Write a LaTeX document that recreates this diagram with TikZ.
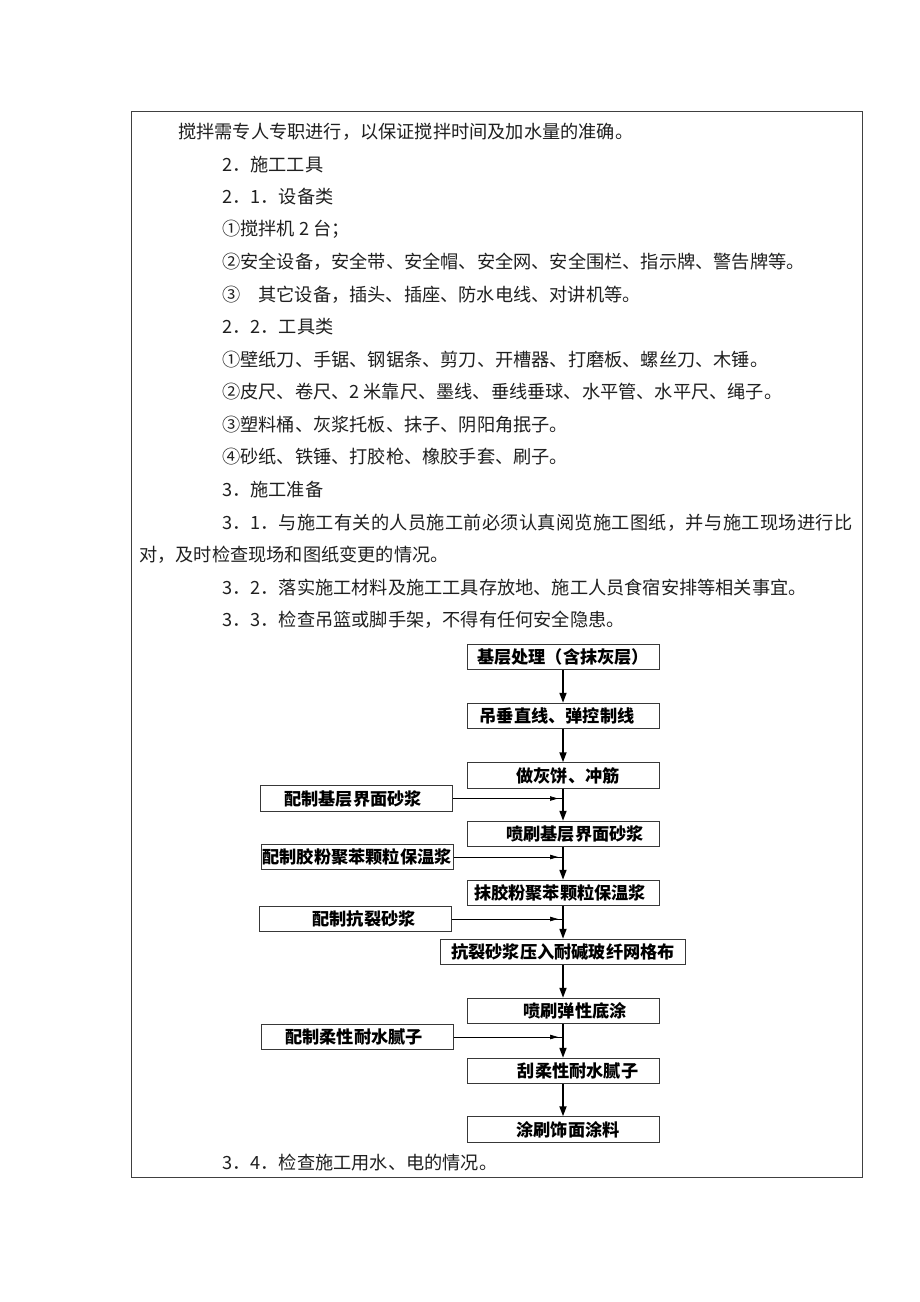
\documentclass[tikz,border=0pt]{standalone}
\usepackage{fontspec}
\setmainfont{Noto Sans CJK SC}
\usetikzlibrary{arrows.meta,decorations.markings}
\newcommand\myshift[1]{\hspace*{#1pt}\hspace*{#1pt}}
\begin{document}
\begin{tikzpicture}[x=1pt,y=-1pt,
  txt/.style={anchor=west,inner sep=0pt,font=\fontsize{18.2}{20}\selectfont,text=black!88},
  fbox/.style={draw=black!78,line width=1pt,minimum width=192pt,minimum height=25.5pt,inner sep=0pt,font=\fontsize{17.2}{19}\selectfont\bfseries},
  flow/.style={line width=1.8pt,-{Triangle[length=10pt,width=7pt]}},
  feed/.style={line width=0.7pt,postaction={decorate},
    decoration={markings,mark=at position -5pt with {\arrow{Triangle[length=8pt,width=4.5pt]}}}}]
\path[use as bounding box] (0,0) rectangle (920,1302);
\draw[black!75,line width=0.9pt] (131,111) rectangle (862,1177);
% body text
\node[txt] (t1) at (178,132) {搅拌需专人专职进行，以保证搅拌时间及加水量的准确。};
\node[txt] (t2) at (222,164.5) {2．施工工具};
\node[txt] (t3) at (222,197) {2．1．设备类};
\node[txt] (t4) at (222,229.5) {①搅拌机 2 台；};
\node[txt] (t5) at (222,262) {②安全设备，安全带、安全帽、安全网、安全围栏、指示牌、警告牌等。};
\node[txt] (t6) at (222,294.5) {③\hspace{18pt}其它设备，插头、插座、防水电线、对讲机等。};
\node[txt] (t7) at (222,327) {2．2．工具类};
\node[txt] (t8) at (222,359.5) {①壁纸刀、手锯、钢锯条、剪刀、开槽器、打磨板、螺丝刀、木锤。};
\node[txt] (t9) at (222,392) {②皮尺、卷尺、2 米靠尺、墨线、垂线垂球、水平管、水平尺、绳子。};
\node[txt] (t10) at (222,424.5) {③塑料桶、灰浆托板、抹子、阴阳角抿子。};
\node[txt] (t11) at (222,457) {④砂纸、铁锤、打胶枪、橡胶手套、刷子。};
\node[txt] (t12) at (222,490) {3．施工准备};
\node[txt] (t13) at (222,522.5) {3．1．{\addfontfeatures{LetterSpace=1.7}与施工有关的人员施工前必须认真阅览施工图纸，并与施工现场进行比}};
\node[txt] (t14) at (139,555) {对，及时检查现场和图纸变更的情况。};
\node[txt] (t15) at (222,587.5) {3．2．落实施工材料及施工工具存放地、施工人员食宿安排等相关事宜。};
\node[txt] (t16) at (222,620) {3．3．检查吊篮或脚手架，不得有任何安全隐患。};
\node[txt] (t17) at (222,1163) {3．4．检查施工用水、电的情况。};
% flowchart
\node[fbox] (b1) at (563,657) {基层处理（含抹灰层）};
\node[fbox] (b2) at (563,716) {\myshift{-6}吊垂直线、弹控制线};
\node[fbox] (b3) at (563,775.5) {\myshift{5}做灰饼、冲筋};
\node[fbox] (b4) at (563,834) {\myshift{12}喷刷基层界面砂浆};
\node[fbox] (b5) at (563,893) {\myshift{-3}抹胶粉聚苯颗粒保温浆};
\node[fbox,minimum width=245pt] (b6) at (563,952) {抗裂砂浆压入耐碱玻纤网格布};
\node[fbox] (b7) at (563,1011) {\myshift{12}喷刷弹性底涂};
\node[fbox] (b8) at (563,1071) {\myshift{15}刮柔性耐水腻子};
\node[fbox] (b9) at (563,1129.5) {\myshift{5}涂刷饰面涂料};
\node[fbox] (l1) at (356,798.5) {\myshift{-3}配制基层界面砂浆};
\node[fbox] (l2) at (357,857) {配制胶粉聚苯颗粒保温浆};
\node[fbox] (l3) at (355,919) {\myshift{9}配制抗裂砂浆};
\node[fbox] (l4) at (357,1037) {\myshift{-3}配制柔性耐水腻子};
\coordinate (j1) at (563,798.5);
\coordinate (j2) at (563,857);
\coordinate (j3) at (563,919);
\coordinate (j4) at (563,1037);
\draw[flow] (b1) -- (b2);
\draw[flow] (b2) -- (b3);
\draw[flow] (b3) -- (b4);
\draw[flow] (b4) -- (b5);
\draw[flow] (b5) -- (b6);
\draw[flow] (b6) -- (b7);
\draw[flow] (b7) -- (b8);
\draw[flow] (b8) -- (b9);
\draw[feed] (l1) -- (j1);
\draw[feed] (l2) -- (j2);
\draw[feed] (l3) -- (j3);
\draw[feed] (l4) -- (j4);
\end{tikzpicture}
\end{document}
